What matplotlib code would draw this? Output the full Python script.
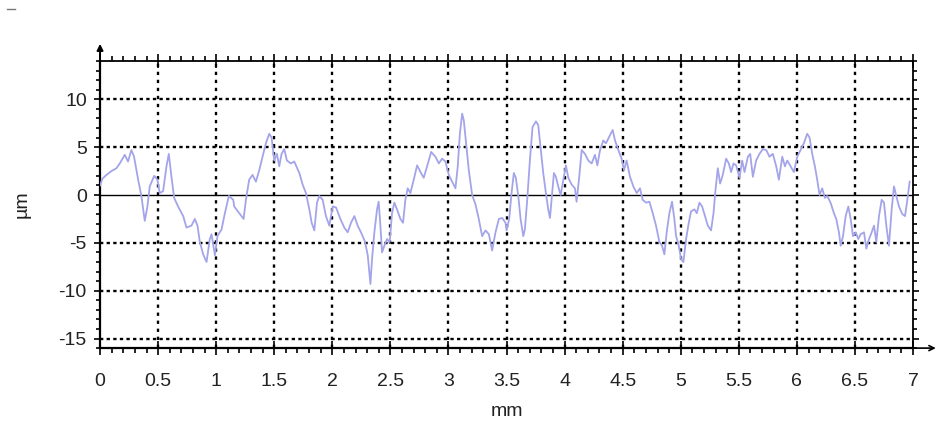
import matplotlib
matplotlib.use("Agg")
import matplotlib.pyplot as plt
from matplotlib.ticker import MultipleLocator, FormatStrFormatter
from matplotlib.lines import Line2D

plt.rcParams['font.family'] = ['Liberation Sans', 'DejaVu Sans']
plt.rcParams['axes.unicode_minus'] = False

# Surface profile: position along the trace (mm) and height (µm)
x_mm = [
    0.000, 0.020, 0.055, 0.098, 0.141, 0.170, 0.213, 0.241, 0.270, 0.293,
    0.328, 0.356, 0.385, 0.408, 0.428, 0.466, 0.494, 0.514, 0.543, 0.572,
    0.592, 0.615, 0.638, 0.672, 0.716, 0.744, 0.787, 0.816, 0.839, 0.859,
    0.888, 0.917, 0.945, 0.960, 0.989, 1.011, 1.046, 1.075, 1.109, 1.147,
    1.155, 1.198, 1.236, 1.256, 1.284, 1.313, 1.342, 1.371, 1.399, 1.428,
    1.457, 1.477, 1.500, 1.523, 1.543, 1.563, 1.586, 1.609, 1.644, 1.672,
    1.716, 1.744, 1.773, 1.802, 1.822, 1.845, 1.868, 1.888, 1.917, 1.945,
    1.974, 2.003, 2.032, 2.069, 2.103, 2.132, 2.161, 2.190, 2.218, 2.247,
    2.282, 2.305, 2.328, 2.342, 2.362, 2.385, 2.399, 2.414, 2.428, 2.448,
    2.471, 2.494, 2.514, 2.534, 2.557, 2.586, 2.609, 2.629, 2.649, 2.672,
    2.701, 2.730, 2.759, 2.787, 2.816, 2.851, 2.888, 2.917, 2.945, 2.974,
    3.003, 3.032, 3.060, 3.080, 3.098, 3.118, 3.132, 3.152, 3.175, 3.204,
    3.233, 3.261, 3.290, 3.319, 3.348, 3.376, 3.405, 3.434, 3.463, 3.491,
    3.500, 3.523, 3.543, 3.563, 3.580, 3.601, 3.621, 3.644, 3.658, 3.678,
    3.701, 3.724, 3.753, 3.773, 3.793, 3.816, 3.839, 3.859, 3.874, 3.888,
    3.908, 3.925, 3.945, 3.966, 3.989, 4.011, 4.032, 4.060, 4.089, 4.103,
    4.126, 4.147, 4.175, 4.204, 4.233, 4.261, 4.282, 4.305, 4.333, 4.356,
    4.376, 4.397, 4.414, 4.434, 4.463, 4.491, 4.511, 4.534, 4.563, 4.592,
    4.621, 4.649, 4.672, 4.701, 4.730, 4.759, 4.787, 4.816, 4.839, 4.859,
    4.879, 4.902, 4.925, 4.945, 4.960, 4.983, 5.003, 5.023, 5.046, 5.069,
    5.089, 5.118, 5.138, 5.161, 5.184, 5.204, 5.233, 5.261, 5.282, 5.299,
    5.319, 5.339, 5.362, 5.391, 5.414, 5.434, 5.454, 5.477, 5.506, 5.529,
    5.549, 5.578, 5.598, 5.621, 5.649, 5.678, 5.707, 5.736, 5.764, 5.793,
    5.822, 5.845, 5.874, 5.897, 5.917, 5.945, 5.974, 6.003, 6.032, 6.060,
    6.089, 6.109, 6.132, 6.155, 6.175, 6.195, 6.218, 6.241, 6.261, 6.290,
    6.319, 6.339, 6.362, 6.377, 6.397, 6.420, 6.443, 6.463, 6.483, 6.506,
    6.529, 6.549, 6.578, 6.598, 6.621, 6.644, 6.664, 6.684, 6.707, 6.730,
    6.750, 6.770, 6.793, 6.816, 6.836, 6.856, 6.879, 6.908, 6.931, 6.951,
    6.971,
]
z_um = [
    1.0, 1.7, 2.1, 2.5, 2.8, 3.3, 4.2, 3.5, 4.7, 4.0,
    1.6, -0.1, -2.7, -1.2, 0.9, 2.0, 1.6, 0.2, 0.4, 3.0,
    4.3, 1.9, -0.3, -1.2, -2.2, -3.4, -3.2, -2.5, -3.2, -4.9,
    -6.2, -7.0, -4.6, -4.1, -6.3, -4.3, -3.6, -1.9, -0.1, -0.5,
    -1.2, -1.9, -2.5, -0.5, 1.6, 2.1, 1.4, 2.6, 4.0, 5.4,
    6.4, 6.0, 3.6, 4.3, 3.0, 4.3, 4.8, 3.6, 3.3, 3.5,
    2.3, 1.1, 0.2, -1.5, -2.9, -3.7, -0.8, -0.1, -0.5, -2.2,
    -3.2, -1.2, -1.3, -2.5, -3.4, -3.9, -2.9, -2.2, -3.2, -3.9,
    -4.9, -6.3, -9.3, -6.7, -3.9, -1.5, -0.7, -3.2, -6.0, -5.3,
    -4.6, -4.9, -1.9, -0.8, -1.5, -2.5, -2.9, -0.5, 0.7, 0.2,
    1.6, 3.1, 2.4, 1.8, 3.0, 4.5, 4.0, 3.3, 3.8, 3.5,
    2.1, 1.4, 0.7, 3.0, 6.4, 8.5, 7.8, 5.4, 2.6, 0.0,
    -1.0, -2.5, -4.3, -3.7, -4.1, -5.8, -3.9, -2.5, -2.4, -2.9,
    -3.7, -2.5, 0.2, 2.3, 1.8, -0.1, -2.5, -4.3, -3.6, -0.5,
    3.6, 7.1, 7.7, 7.3, 5.0, 2.3, 0.2, -1.5, -2.4, -0.5,
    2.3, 1.9, 0.9, 0.0, 1.6, 3.1, 1.8, 1.1, 0.7, -0.7,
    1.9, 4.7, 4.3, 3.6, 3.3, 4.2, 3.1, 4.7, 5.7, 5.4,
    5.9, 6.4, 6.8, 5.7, 4.7, 3.8, 2.6, 3.6, 1.9, 0.9,
    0.2, 0.7, -0.5, -0.8, -0.7, -1.9, -3.2, -4.9, -5.3, -6.2,
    -3.9, -1.9, -0.7, -2.5, -4.3, -5.3, -6.7, -7.0, -4.6, -2.9,
    -1.7, -1.5, -1.9, -0.8, -1.2, -2.0, -3.2, -3.7, -1.9, 0.5,
    2.8, 1.2, 2.1, 3.8, 3.3, 2.4, 3.3, 3.1, 1.8, 3.6,
    2.4, 4.0, 4.3, 1.9, 3.6, 4.3, 4.8, 4.7, 4.0, 4.3,
    3.0, 1.6, 4.0, 3.0, 3.6, 3.0, 2.4, 4.0, 4.7, 5.4,
    6.4, 6.0, 4.3, 3.0, 1.6, 0.0, 0.7, -0.3, -0.1, -0.8,
    -1.9, -2.5, -3.9, -5.3, -4.3, -2.2, -1.2, -2.5, -4.3, -3.9,
    -4.6, -4.1, -3.9, -5.6, -4.6, -3.9, -3.2, -4.9, -2.2, -0.5,
    -0.8, -3.2, -5.3, -1.5, 0.9, -0.1, -1.2, -2.0, -2.2, -0.5,
    1.4,
]

x_range = (0, 7)
y_range = (-16, 14)
x_ticks = [0, 0.5, 1, 1.5, 2, 2.5, 3, 3.5, 4, 4.5, 5, 5.5, 6, 6.5, 7]
y_ticks = [-15, -10, -5, 0, 5, 10]
grid_y = [-15, -10, -5, 5, 10]

fig = plt.figure(figsize=(9.35, 4.24), dpi=100)
ax = fig.add_axes([0.107, 0.179, 0.8695, 0.677])

ax.set_xlim(*x_range)
ax.set_ylim(*y_range)

dot = (0, (1.4, 1.4))
for gx in x_ticks[1:-1]:
    ax.axvline(gx, color='black', lw=1.7, linestyle=(0, (1.4, 2.0)), zorder=1)
for gy in grid_y:
    ax.axhline(gy, color='black', lw=1.7, linestyle=dot, zorder=1)
ax.axhline(0, color='black', lw=1.0, zorder=2)

ax.plot(x_mm, z_um, color='#a4a4ea', lw=1.3, zorder=3)

ax.set_xticks(x_ticks)
ax.set_yticks(y_ticks)
ax.xaxis.set_major_formatter(FormatStrFormatter('%g'))
ax.xaxis.set_minor_locator(MultipleLocator(0.1))
ax.yaxis.set_minor_locator(MultipleLocator(1))

ax.tick_params(axis='x', which='major', direction='inout', length=10, width=1.2,
               top=True, bottom=True, labelsize=14, pad=13, labelcolor='#222222')
ax.tick_params(axis='x', which='minor', direction='out', length=3.5, width=1.2,
               top=True, bottom=True)
ax.tick_params(axis='y', which='major', direction='out', length=4.5, width=1.2,
               left=True, right=True, labelsize=14, pad=5, labelcolor='#222222')
ax.tick_params(axis='y', which='minor', direction='out', length=3, width=1.2,
               left=True, right=True)

for side in ['left', 'bottom']:
    ax.spines[side].set_linewidth(1.6)
for side in ['top', 'right']:
    ax.spines[side].set_linewidth(1.3)

# axis arrows
ax.annotate('', xy=(0, 1.06), xytext=(0, 0.99), xycoords='axes fraction',
            arrowprops=dict(arrowstyle='-|>', lw=1.4, color='black',
                            mutation_scale=9, shrinkA=0, shrinkB=0),
            annotation_clip=False)
ax.annotate('', xy=(1.028, 0), xytext=(0.99, 0), xycoords='axes fraction',
            arrowprops=dict(arrowstyle='->', lw=1.2, color='black',
                            mutation_scale=9, shrinkA=0, shrinkB=0),
            annotation_clip=False)

ax.set_xlabel('mm', fontsize=14, color='#222222', labelpad=9)
ax.set_ylabel('µm', fontsize=14, color='#222222', labelpad=20)

fig.add_artist(Line2D([0.008, 0.016], [0.978, 0.978], color='#777777', lw=1.0))

fig.savefig('out.png', dpi=100)
